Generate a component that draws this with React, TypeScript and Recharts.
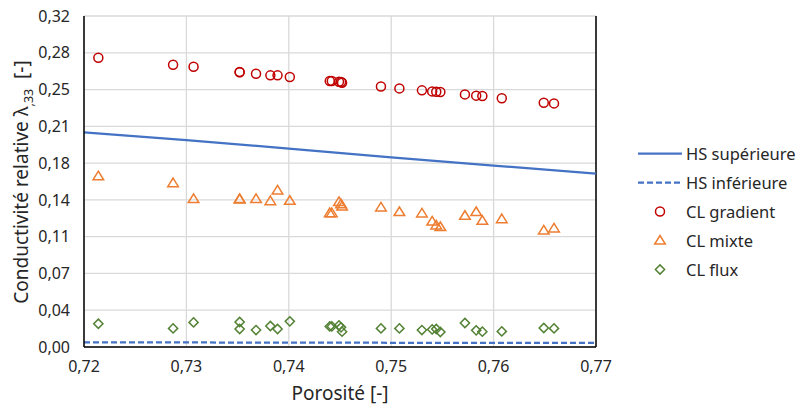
import {
  CartesianGrid,
  ComposedChart,
  Legend,
  Line,
  ReferenceLine,
  Scatter,
  XAxis,
  YAxis,
} from "recharts";

const porosity = [
  0.7214, 0.7287, 0.7307, 0.7352, 0.7352, 0.7368, 0.7382, 0.7389, 0.7401,
  0.744, 0.7442, 0.7449, 0.7451, 0.7452, 0.749, 0.7508, 0.753, 0.754,
  0.7544, 0.7548, 0.7572, 0.7583, 0.7589, 0.7608, 0.7649, 0.7659,
];
const clGradient = [
  0.2797, 0.2729, 0.271, 0.2659, 0.2655, 0.2642, 0.2626, 0.2626, 0.261,
  0.2572, 0.2572, 0.2565, 0.2562, 0.2555, 0.2519, 0.25, 0.2481, 0.2471,
  0.2468, 0.2465, 0.2442, 0.243, 0.2427, 0.2404, 0.2362, 0.2355,
];
const clMixte = [
  0.1651, 0.1585, 0.1431, 0.1431, 0.1428, 0.1431, 0.1411, 0.1514, 0.1414,
  0.1295, 0.1295, 0.1402, 0.1381, 0.1359, 0.135, 0.1305, 0.1292, 0.1214,
  0.1176, 0.116, 0.1269, 0.1305, 0.1221, 0.1237, 0.1127, 0.1147,
];
const clFlux = [
  0.0225, 0.018, 0.0238, 0.0242, 0.0174, 0.0164, 0.0203, 0.0174, 0.0248,
  0.0199, 0.0199, 0.0209, 0.019, 0.0148, 0.018, 0.018, 0.0164, 0.017,
  0.0174, 0.0145, 0.0232, 0.0161, 0.0148, 0.0151, 0.0184, 0.018,
];

const hsPorosity = [0.72, 0.73, 0.74, 0.75, 0.76, 0.77];
const hsSuperieure = [0.2075, 0.2, 0.1918, 0.1834, 0.1754, 0.1675];
const hsInferieure = [0.0045, 0.0044, 0.0042, 0.0041, 0.004, 0.0039];

const xTicks = [0.72, 0.73, 0.74, 0.75, 0.76, 0.77];
const yTicks = [0, 1, 2, 3, 4, 5, 6, 7, 8, 9].map((i) => (0.32 * i) / 9);

const FONT = "'Noto Sans', 'Open Sans', sans-serif";
const TEXT = "#262626";
const BLUE = "#4472C4";
const RED = "#C00000";
const ORANGE = "#ED7D31";
const GREEN = "#548235";

const toPoints = (xs: number[], ys: number[]) =>
  xs.map((x, i) => ({ x, y: ys[i] }));

const comma = (v: number, digits: number) => v.toFixed(digits).replace(".", ",");

function Circle({ cx, cy, size = 4.5 }: any) {
  return <circle cx={cx} cy={cy} r={size} fill="none" stroke={RED} strokeWidth={1.5} />;
}

function Triangle({ cx, cy }: any) {
  const d = `M${cx},${cy - 5}L${cx + 5.3},${cy + 3.6}L${cx - 5.3},${cy + 3.6}Z`;
  return <path d={d} fill="none" stroke={ORANGE} strokeWidth={1.5} />;
}

function Diamond({ cx, cy }: any) {
  const d = `M${cx},${cy - 4.6}L${cx + 4.6},${cy}L${cx},${cy + 4.6}L${cx - 4.6},${cy}Z`;
  return <path d={d} fill="none" stroke={GREEN} strokeWidth={1.5} />;
}

const legendItems = [
  { label: "HS supérieure", kind: "solid" },
  { label: "HS inférieure", kind: "dashed" },
  { label: "CL gradient", kind: "circle" },
  { label: "CL mixte", kind: "triangle" },
  { label: "CL flux", kind: "diamond" },
];

function ChartLegend() {
  return (
    <div style={{ fontFamily: FONT, fontSize: 16.5, color: TEXT }}>
      {legendItems.map((item) => (
        <div key={item.label} style={{ display: "flex", alignItems: "center", height: 29 }}>
          <svg width={48} height={29}>
            {item.kind === "solid" && (
              <line x1={2} x2={46} y1={14.5} y2={14.5} stroke={BLUE} strokeWidth={2.25} />
            )}
            {item.kind === "dashed" && (
              <line x1={2} x2={46} y1={14.5} y2={14.5} stroke={BLUE} strokeWidth={2.25} strokeDasharray="6 3" />
            )}
            {item.kind === "circle" && <Circle cx={24} cy={14.5} />}
            {item.kind === "triangle" && <Triangle cx={24} cy={14.5} />}
            {item.kind === "diamond" && <Diamond cx={24} cy={14.5} />}
          </svg>
          <span style={{ marginLeft: 2, whiteSpace: "nowrap" }}>{item.label}</span>
        </div>
      ))}
    </div>
  );
}

function YTitle() {
  return (
    <text
      x={28}
      y={182}
      transform="rotate(-90, 28, 182)"
      textAnchor="middle"
      fontFamily={FONT}
      fontSize={19}
      fill={TEXT}
    >
      Conductivité relative λ
      <tspan dy={5} fontSize={12.5}>,33</tspan>
      <tspan dy={-5}>{"\u00a0\u00a0[-]"}</tspan>
    </text>
  );
}

function XTitle() {
  return (
    <text x={340} y={400} textAnchor="middle" fontFamily={FONT} fontSize={19} fill={TEXT}>
      Porosité [-]
    </text>
  );
}

export default function App() {
  return (
    <div style={{ position: "absolute", left: 0, top: 0 }}>
      <ComposedChart
        width={798}
        height={405}
        margin={{ top: 16, right: 202, bottom: 8, left: 0 }}
      >
        <CartesianGrid stroke="#d9d9d9" strokeWidth={1.3} />
        <XAxis
          dataKey="x"
          type="number"
          domain={[0.72, 0.77]}
          ticks={xTicks}
          allowDataOverflow
          height={50}
          tickFormatter={(v: number) => comma(v, 2)}
          tick={{ fontSize: 16, fill: TEXT, fontFamily: FONT }}
          tickLine={false}
          tickSize={0}
          tickMargin={14}
          axisLine={{ stroke: "#000", strokeWidth: 1.5 }}
          label={{ content: () => <XTitle /> }}
        />
        <YAxis
          dataKey="y"
          type="number"
          domain={[0, 0.32]}
          ticks={yTicks}
          allowDataOverflow
          width={84}
          tickFormatter={(v: number) => comma(v, 2)}
          tick={{ fontSize: 16, fill: TEXT, fontFamily: FONT }}
          tickLine={false}
          tickSize={0}
          tickMargin={14}
          axisLine={{ stroke: "#000", strokeWidth: 1.5 }}
          label={{ content: () => <YTitle /> }}
        />
        <ReferenceLine x={0.77} stroke="#000" strokeWidth={1.5} />
        <Line
          data={toPoints(hsPorosity, hsSuperieure)}
          dataKey="y"
          type="linear"
          stroke={BLUE}
          strokeWidth={2.25}
          dot={false}
          activeDot={false}
          isAnimationActive={false}
        />
        <Line
          data={toPoints(hsPorosity, hsInferieure)}
          dataKey="y"
          type="linear"
          stroke={BLUE}
          strokeWidth={2.25}
          strokeDasharray="6 3"
          dot={false}
          activeDot={false}
          isAnimationActive={false}
        />
        <Scatter
          data={toPoints(porosity, clGradient)}
          dataKey="y"
          shape={(p: any) => <Circle cx={p.cx} cy={p.cy} />}
          isAnimationActive={false}
        />
        <Scatter
          data={toPoints(porosity, clMixte)}
          dataKey="y"
          shape={(p: any) => <Triangle cx={p.cx} cy={p.cy} />}
          isAnimationActive={false}
        />
        <Scatter
          data={toPoints(porosity, clFlux)}
          dataKey="y"
          shape={(p: any) => <Diamond cx={p.cx} cy={p.cy} />}
          isAnimationActive={false}
        />
        <Legend
          layout="vertical"
          align="center"
          verticalAlign="middle"
          content={() => <ChartLegend />}
          wrapperStyle={{ left: 636, top: 139, width: 162 }}
        />
      </ComposedChart>
    </div>
  );
}
